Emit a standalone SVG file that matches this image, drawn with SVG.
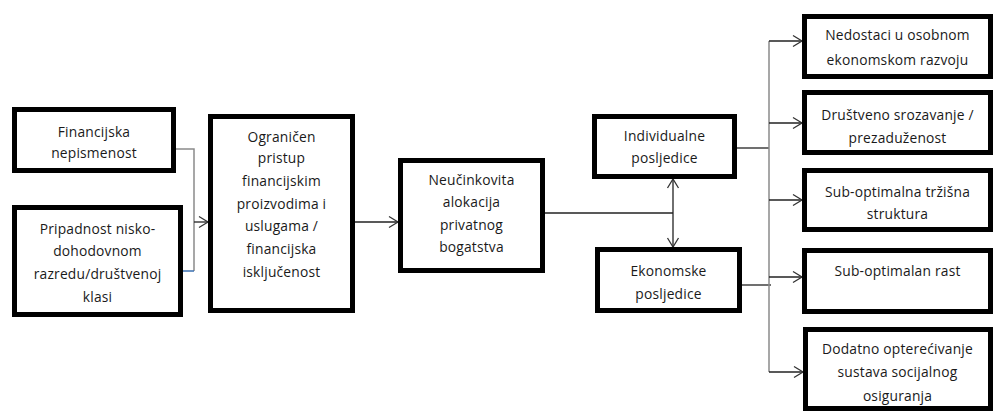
<svg xmlns="http://www.w3.org/2000/svg" width="996" height="414" viewBox="0 0 996 414">
<defs>
<style>
.box{fill:#fff;stroke:#000;stroke-width:5}
.t{font-family:"Open Sans","Liberation Sans",sans-serif;font-size:13.8px;fill:#1a1a1a;text-anchor:middle;letter-spacing:0.2px}
.ln{fill:none;stroke:#222;stroke-width:1.3}
.gl{fill:none;stroke:#8a8a8a;stroke-width:1.5}
.bl{fill:none;stroke:#3a6fb0;stroke-width:1.5}
</style>
<marker id="ah" markerUnits="userSpaceOnUse" markerWidth="14" markerHeight="14" refX="11" refY="7" orient="auto">
<path d="M2,1.5 L11,7 L2,12.5" fill="none" stroke="#333" stroke-width="1.3"/>
</marker>
</defs>
<rect width="996" height="414" fill="#fff"/>
<g id="connectors">
<path class="gl" d="M176,149 H194 V271"/>
<path class="bl" d="M194,271 H183"/>
<path class="ln" d="M194,222 H208" marker-end="url(#ah)"/>
<path class="ln" d="M355,222 H398" marker-end="url(#ah)"/>
<path class="ln" d="M545,213 H673"/>
<path class="ln" d="M673,213 V179" marker-end="url(#ah)"/>
<path class="ln" d="M673,213 V247" marker-end="url(#ah)"/>
<path class="ln" d="M737,148 H769"/>
<path class="ln" d="M742,285 H771"/>
<path class="gl" d="M769,41 V372"/>
<path class="ln" d="M769,41 H802" marker-end="url(#ah)"/>
<path class="ln" d="M769,123 H802" marker-end="url(#ah)"/>
<path class="ln" d="M769,200 H802" marker-end="url(#ah)"/>
<path class="ln" d="M769,277 H802" marker-end="url(#ah)"/>
<path class="ln" d="M769,372 H803" marker-end="url(#ah)"/>
</g>
<g id="n1"><rect class="box" x="14.5" y="109.5" width="159" height="61"/>
<text class="t" x="94" y="137">Financijska</text><text class="t" x="94" y="158">nepismenost</text></g>
<g id="n2"><rect class="box" x="14.5" y="207.5" width="166" height="107"/>
<text class="t" x="97.5" y="234">Pripadnost nisko-</text><text class="t" x="97.5" y="256">dohodovnom</text><text class="t" x="97.5" y="279">razredu/društvenoj</text><text class="t" x="97.5" y="302">klasi</text></g>
<g id="n3"><rect class="box" x="210.5" y="116.5" width="142" height="194"/>
<text class="t" x="281.5" y="142">Ograničen</text><text class="t" x="281.5" y="163">pristup</text><text class="t" x="281.5" y="186">financijskim</text><text class="t" x="281.5" y="209">proizvodima i</text><text class="t" x="281.5" y="231">uslugama /</text><text class="t" x="281.5" y="254">financijska</text><text class="t" x="281.5" y="277">isključenost</text></g>
<g id="n4"><rect class="box" x="400.5" y="160.5" width="142" height="110"/>
<text class="t" x="471.5" y="185">Neučinkovita</text><text class="t" x="471.5" y="207">alokacija</text><text class="t" x="471.5" y="230">privatnog</text><text class="t" x="471.5" y="252">bogatstva</text></g>
<g id="n5"><rect class="box" x="594.5" y="116.5" width="140" height="60"/>
<text class="t" x="664.5" y="141">Individualne</text><text class="t" x="664.5" y="163">posljedice</text></g>
<g id="n6"><rect class="box" x="597.5" y="249.5" width="142" height="61"/>
<text class="t" x="668.5" y="276">Ekonomske</text><text class="t" x="668.5" y="299">posljedice</text></g>
<g id="r1"><rect class="box" x="804.5" y="16.5" width="186" height="60"/>
<text class="t" x="897.5" y="40">Nedostaci u osobnom</text><text class="t" x="897.5" y="65">ekonomskom razvoju</text></g>
<g id="r2"><rect class="box" x="804.5" y="92.5" width="186" height="60"/>
<text class="t" x="897.5" y="120">Društveno srozavanje /</text><text class="t" x="897.5" y="143">prezaduženost</text></g>
<g id="r3"><rect class="box" x="804.5" y="170.5" width="186" height="59"/>
<text class="t" x="897.5" y="197">Sub-optimalna tržišna</text><text class="t" x="897.5" y="219">struktura</text></g>
<g id="r4"><rect class="box" x="804.5" y="250.5" width="186" height="61"/>
<text class="t" x="897.5" y="276">Sub-optimalan rast</text></g>
<g id="r5"><rect class="box" x="805.5" y="329.5" width="185" height="79"/>
<text class="t" x="897.5" y="354">Dodatno opterećivanje</text><text class="t" x="897.5" y="377">sustava socijalnog</text><text class="t" x="897.5" y="401">osiguranja</text></g>
</svg>
